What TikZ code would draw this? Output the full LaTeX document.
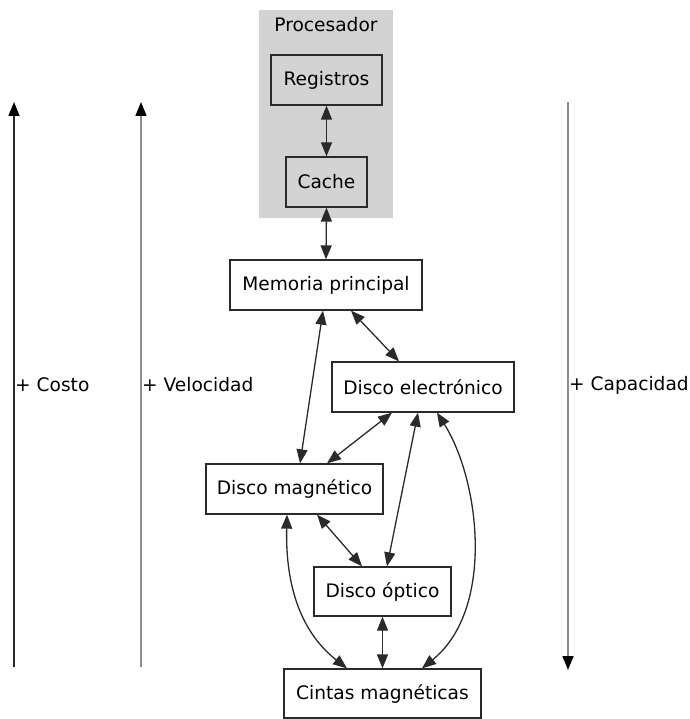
\documentclass[tikz,border=0pt]{standalone}
\usepackage{fontspec}
\setmainfont{DejaVu Sans}
\usetikzlibrary{arrows.meta}
\definecolor{cluster}{HTML}{D3D3D3}
\definecolor{edge}{HTML}{2A2A2A}
\definecolor{sidegray}{HTML}{8C8C8C}
\tikzset{
  box/.style={draw=edge, line width=1.3pt, fill=white, inner sep=0pt, minimum height=50pt, font=\fontsize{18.6}{22}\selectfont},
  graybox/.style={box, fill=cluster},
  link/.style={draw=edge, line width=1.3pt, {Triangle[length=14pt,width=11pt]}-{Triangle[length=14pt,width=11pt]}},
  side/.style={line width=1.5pt, -{Triangle[length=14pt,width=11pt,color=black]}},
  sidelabel/.style={anchor=west, inner sep=1pt, font=\fontsize{18.6}{22}\selectfont}
}
\begin{document}
\begin{tikzpicture}[x=1pt,y=-1pt]
\useasboundingbox (0,0) rectangle (689,719);
\fill[cluster] (259,10) rectangle (393,218);
\node[font=\fontsize{18.6}{22}\selectfont] (proc) at (326,25) {Procesador};
\node[graybox, minimum width=111pt] (reg) at (326.5,80) {Registros};
\node[graybox, minimum width=81pt] (cache) at (326.5,182) {Cache};
\node[box, minimum width=192pt] (mp) at (326,285) {Memoria principal};
\node[box, minimum width=182pt] (elec) at (423,387) {Disco electrónico};
\node[box, minimum width=177pt] (mag) at (294.5,489) {Disco magnético};
\node[box, minimum width=137pt, minimum height=49pt] (opt) at (382.5,591.5) {Disco óptico};
\node[box, minimum width=197pt, minimum height=49pt] (cin) at (382.5,693.5) {Cintas magnéticas};

\draw[link] (reg.south) -- (cache.north);
\draw[link] (cache.south) -- (mp.north);
\draw[link] ([xshift=-3pt]mp.south) -- ([xshift=5.5pt]mag.north);
\draw[link] ([xshift=25pt]mp.south) -- ([xshift=-24pt]elec.north);
\draw[link] ([xshift=-31pt]elec.south) -- ([xshift=32.5pt]mag.north);
\draw[link] ([xshift=-5pt]elec.south) -- ([xshift=4.5pt]opt.north);
\draw[link] ([xshift=14pt]elec.south) .. controls +(43,68) and +(73,-59) .. ([xshift=39.5pt]cin.north);
\draw[link] ([xshift=22.5pt]mag.south) -- ([xshift=-20.5pt]opt.north);
\draw[link] ([xshift=-7.5pt]mag.south) .. controls +(-2,86) and +(-37,-29) .. ([xshift=-35.5pt]cin.north);
\draw[link] (opt.south) -- (cin.north);

\coordinate (c1) at (14,667);
\coordinate (c2) at (14,102);
\coordinate (v1) at (141,667);
\coordinate (v2) at (141,102);
\coordinate (k1) at (568,102);
\coordinate (k2) at (568,670);
\draw[side, draw=edge] (c1) -- (c2);
\draw[side, draw=sidegray] (v1) -- (v2);
\draw[side, draw=sidegray] (k1) -- (k2);
\node[sidelabel] (costo) at (14,385) {+ Costo};
\node[sidelabel] (vel) at (141,385) {+ Velocidad};
\node[sidelabel] (cap) at (568,385) {+ Capacidad};
\end{tikzpicture}
\end{document}
